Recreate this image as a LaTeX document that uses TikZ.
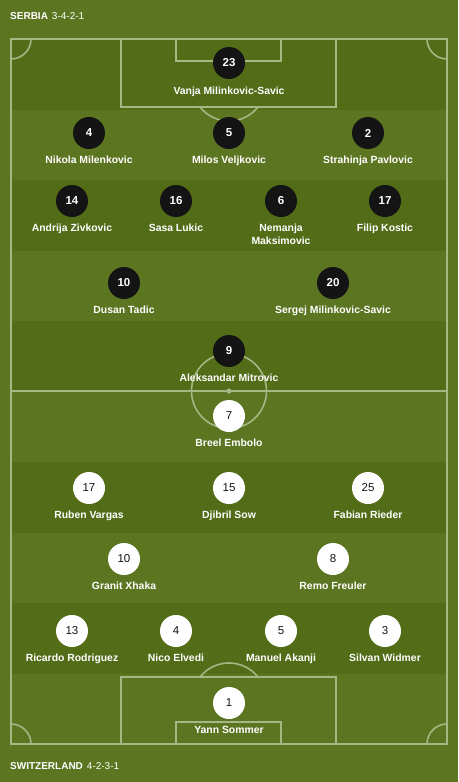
\documentclass[tikz,border=0pt]{standalone}
\usepackage{fontspec}
\setmainfont{Liberation Sans}
\definecolor{pitchlight}{RGB}{91,117,33}
\definecolor{pitchdark}{RGB}{82,108,23}
\definecolor{linecol}{RGB}{166,182,132}
\definecolor{dotblack}{RGB}{20,20,20}
\tikzset{
  pitchline/.style={draw=linecol, line width=1.6pt},
  srbdot/.style={circle, fill=dotblack, minimum size=32pt, inner sep=0pt, text=white, font=\fontsize{11.5}{13}\selectfont\bfseries},
  suidot/.style={circle, fill=white, minimum size=32pt, inner sep=0pt, text=dotblack, font=\fontsize{11.5}{13}\selectfont},
  pname/.style={anchor=base, inner sep=0pt, text=white, align=center, font=\fontsize{10.4}{13}\selectfont\bfseries},
  teamlbl/.style={anchor=base west, inner sep=0pt, text=white, font=\fontsize{10}{12}\selectfont}
}
\begin{document}
\begin{tikzpicture}[x=1pt,y=-1pt]
    \fill[pitchlight] (0,0) rectangle (458,782);
    \useasboundingbox (0,0) rectangle (458,782);
    \foreach \i in {0,2,...,8}
        \fill[pitchdark] (11,{39+70.5*\i}) rectangle (447,{39+70.5*(\i+1)});

    \draw[pitchline] (11,39) rectangle (447,744);
    \draw[pitchline] (121,39) rectangle (336,107);
    \draw[pitchline] (176,39) rectangle (281,61);
    \draw[pitchline] (121,677) rectangle (336,744);
    \draw[pitchline] (176,722) rectangle (281,744);
    \draw[pitchline] (11,391) -- (447,391);
    \draw[pitchline] (229,391) circle[radius=37.5];
    \fill[linecol] (229,391) circle[radius=2.6];
    \begin{scope}
        \clip (0,107) rectangle (458,677);
        \draw[pitchline] (229,84) circle[radius=37];
        \draw[pitchline] (229,700) circle[radius=37];
    \end{scope}
    \begin{scope}
        \clip (11,39) rectangle (447,744);
        \draw[pitchline] (11,39) circle[radius=20];
        \draw[pitchline] (447,39) circle[radius=20];
        \draw[pitchline] (11,744) circle[radius=20];
        \draw[pitchline] (447,744) circle[radius=20];
    \end{scope}

    \node[teamlbl] at (10,19.5) (srbhead) {\textbf{SERBIA}\hspace{4pt}3-4-2-1};
    \node[teamlbl] at (10,769.5) (suihead) {\textbf{SWITZERLAND}\hspace{4pt}4-2-3-1};

    \node[srbdot] at (229,63)  (srb23) {23};
    \node[pname]  at (229,94)  (srb23n) {Vanja Milinkovic-Savic};

    \node[srbdot] at (89,133)  (srb4) {4};
    \node[pname]  at (89,163)  (srb4n) {Nikola Milenkovic};
    \node[srbdot] at (229,133) (srb5) {5};
    \node[pname]  at (229,163) (srb5n) {Milos Veljkovic};
    \node[srbdot] at (368,133) (srb2) {2};
    \node[pname]  at (368,163) (srb2n) {Strahinja Pavlovic};

    \node[srbdot] at (72,201)  (srb14) {14};
    \node[pname]  at (72,231)  (srb14n) {Andrija Zivkovic};
    \node[srbdot] at (176,201) (srb16) {16};
    \node[pname]  at (176,231) (srb16n) {Sasa Lukic};
    \node[srbdot] at (281,201) (srb6) {6};
    \node[pname]  at (281,244) (srb6n) {Nemanja\\Maksimovic};
    \node[srbdot] at (385,201) (srb17) {17};
    \node[pname]  at (385,231) (srb17n) {Filip Kostic};

    \node[srbdot] at (124,283) (srb10) {10};
    \node[pname]  at (124,313) (srb10n) {Dusan Tadic};
    \node[srbdot] at (333,283) (srb20) {20};
    \node[pname]  at (333,313) (srb20n) {Sergej Milinkovic-Savic};

    \node[srbdot] at (229,351) (srb9) {9};
    \node[pname]  at (229,381) (srb9n) {Aleksandar Mitrovic};

    \node[suidot] at (229,416) (sui7) {7};
    \node[pname]  at (229,446) (sui7n) {Breel Embolo};

    \node[suidot] at (89,488)  (sui17) {17};
    \node[pname]  at (89,518)  (sui17n) {Ruben Vargas};
    \node[suidot] at (229,488) (sui15) {15};
    \node[pname]  at (229,518) (sui15n) {Djibril Sow};
    \node[suidot] at (368,488) (sui25) {25};
    \node[pname]  at (368,518) (sui25n) {Fabian Rieder};

    \node[suidot] at (124,559) (sui10) {10};
    \node[pname]  at (124,589.5) (sui10n) {Granit Xhaka};
    \node[suidot] at (333,559) (sui8) {8};
    \node[pname]  at (333,589.5) (sui8n) {Remo Freuler};

    \node[suidot] at (72,631)  (sui13) {13};
    \node[pname]  at (72,661)  (sui13n) {Ricardo Rodriguez};
    \node[suidot] at (176,631) (sui4) {4};
    \node[pname]  at (176,661) (sui4n) {Nico Elvedi};
    \node[suidot] at (281,631) (sui5) {5};
    \node[pname]  at (281,661) (sui5n) {Manuel Akanji};
    \node[suidot] at (385,631) (sui3) {3};
    \node[pname]  at (385,661) (sui3n) {Silvan Widmer};

    \node[suidot] at (229,703) (sui1) {1};
    \node[pname]  at (229,733) (sui1n) {Yann Sommer};
\end{tikzpicture}
\end{document}
